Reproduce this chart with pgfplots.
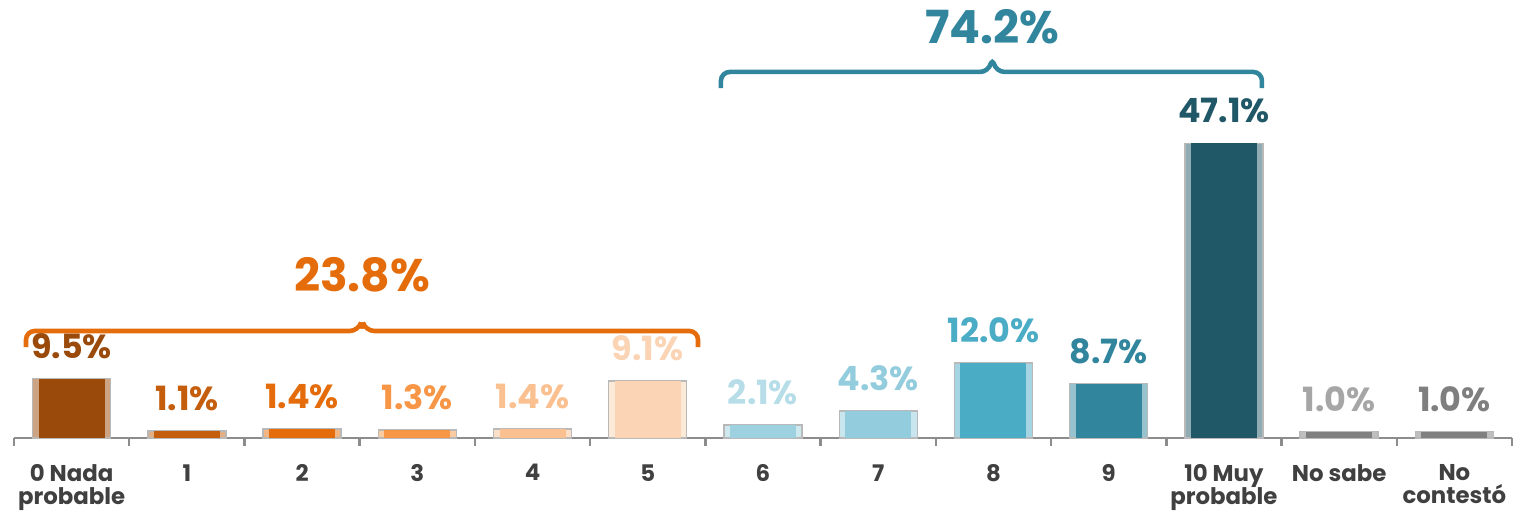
\documentclass[border=0pt]{standalone}
\usepackage{fontspec}
\setmainfont{Poppins}
\usepackage{pgfplots}
\pgfplotsset{compat=1.18}
\usetikzlibrary{calc}

\definecolor{axisgray}{HTML}{8C8C8C}
\definecolor{labelgray}{HTML}{404040}
\definecolor{cA}{HTML}{9A4A0A}
\definecolor{cB}{HTML}{C45E0C}
\definecolor{cC}{HTML}{E46C0A}
\definecolor{cD}{HTML}{F79646}
\definecolor{cE}{HTML}{FAC090}
\definecolor{cF}{HTML}{FAD4B4}
\definecolor{cG}{HTML}{9ED1E0}
\definecolor{cGl}{HTML}{B7DEE8}
\definecolor{cH}{HTML}{93CDDD}
\definecolor{cI}{HTML}{4BACC6}
\definecolor{cJ}{HTML}{31859C}
\definecolor{cK}{HTML}{215868}
\definecolor{cL}{HTML}{808080}
\definecolor{cLl}{HTML}{A6A6A6}
\definecolor{cMl}{HTML}{7F7F7F}

% bar with light side strips (bevel look): x, value, bar colour, label colour
\newcommand{\bevbar}[4]{%
  \addplot[fill=#3!50!white, draw=gray!55, line width=0.4pt,
    nodes near coords={\pgfmathprintnumber[fixed,fixed zerofill,precision=1,assume math mode=true]{\pgfplotspointmeta}\%},
    nodes near coords style={text=#4, font=\fontsize{9.5}{11}\selectfont\bfseries,
        anchor=south, inner sep=0pt, yshift=5.5pt}]
    coordinates {(#1,#2)};
  \addplot[fill=#3, draw=none, bar width=0.66cm] coordinates {(#1,#2)};
}

\begin{document}
\begin{tikzpicture}
\begin{axis}[
    width=14.98cm, height=4.38cm, scale only axis,
    xmin=-0.5, xmax=12.5, ymin=0, ymax=70,
    axis x line*=bottom, axis y line=none,
    axis line style={draw=axisgray, line width=0.7pt},
    ybar, bar shift=0pt, bar width=0.78cm,
    xtick={0,...,12},
    xticklabels={0 Nada\\probable,1,2,3,4,5,6,7,8,9,10 Muy\\probable,No sabe,No\\contestó},
    major tick length=0pt,
    minor xtick={-0.5,0.5,...,12.5},
    minor tick length=0.08cm, tick align=outside,
    minor tick style={draw=axisgray, line width=0.7pt},
    xticklabel style={font=\fontsize{6.5}{6.6}\selectfont\bfseries, text=labelgray,
        align=center, anchor=north, yshift=-4pt},
    clip=false,
]
\bevbar{0}{9.5}{cA}{cA}
\bevbar{1}{1.1}{cB}{cB}
\bevbar{2}{1.4}{cC}{cC}
\bevbar{3}{1.3}{cD}{cD}
\bevbar{4}{1.4}{cE}{cE}
\bevbar{5}{9.1}{cF}{cF}
\bevbar{6}{2.1}{cG}{cGl}
\bevbar{7}{4.3}{cH}{cH}
\bevbar{8}{12.0}{cI}{cI}
\bevbar{9}{8.7}{cJ}{cJ}
\bevbar{10}{47.1}{cK}{cK}
\bevbar{11}{1.0}{cL}{cLl}
\bevbar{12}{1.0}{cL}{cMl}

% group braces
\draw[cC, line width=1.3pt, rounded corners=2.5pt]
  (-0.396,14.5) -- (-0.396,17.1) -- (2.49,17.1) -- (2.52,18.9) -- (2.55,17.1) -- (5.436,17.1) -- (5.436,14.5);
\node[text=cC, font=\fontsize{13}{15}\selectfont\bfseries] at (2.52,26.05) {23.8\%};
\draw[cJ, line width=1.3pt, rounded corners=2.5pt]
  (5.635,55.9) -- (5.635,58.5) -- (7.96,58.5) -- (7.99,60.9) -- (8.02,58.5) -- (10.33,58.5) -- (10.33,55.9);
\node[text=cJ, font=\fontsize{13}{15}\selectfont\bfseries] at (7.99,65.7) {74.2\%};
\end{axis}
\pgfresetboundingbox
\path[use as bounding box] ($(current axis.south west)+(-0.14cm,-0.79cm)$) rectangle ($(current axis.north east)+(0.06cm,0)$);
\end{tikzpicture}
\end{document}
